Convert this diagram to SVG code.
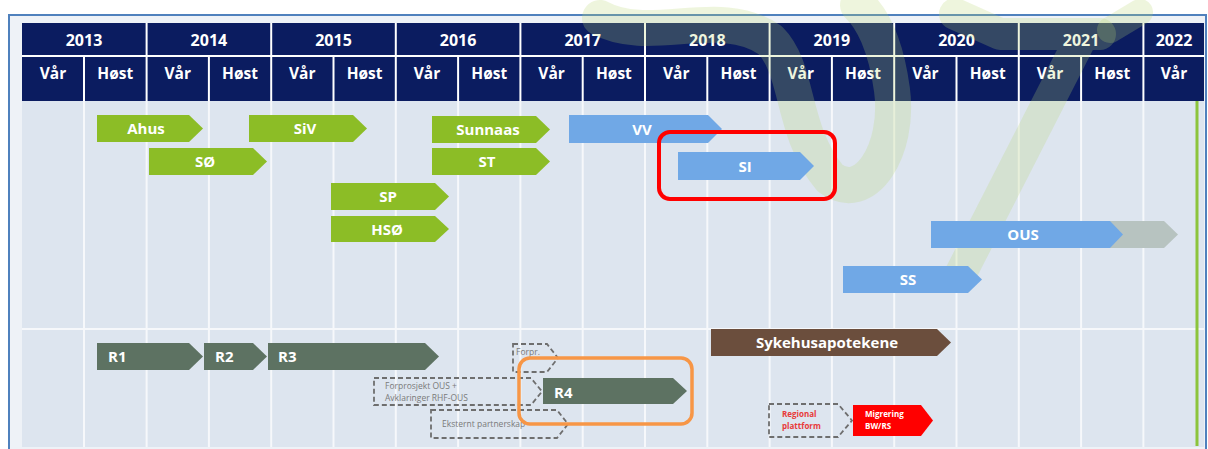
<svg xmlns="http://www.w3.org/2000/svg" width="1208" height="449" viewBox="0 0 1208 449">
<style>
.hd{fill:#0b1c60}
.hl{stroke:#ffffff;stroke-width:2}
.ht{font-family:"Open Sans","Liberation Sans",sans-serif;font-weight:bold;fill:#ffffff;text-anchor:middle}
.yr{font-size:16px}
.ss{font-size:15.5px}
.g{fill:#8cbd26}
.b{fill:#70a8e6}
.r{fill:#5d7262}
.br{fill:#6b4e3d}
.lbl{font-family:"Open Sans","Liberation Sans",sans-serif;font-weight:bold;font-size:15px;fill:#ffffff;text-anchor:middle}
.lbll{font-family:"Open Sans","Liberation Sans",sans-serif;font-weight:bold;font-size:15px;fill:#ffffff}
.dash{fill:none;stroke:#6e6e6e;stroke-width:1.8;stroke-dasharray:5 3}
.sm{font-family:"Open Sans","Liberation Sans",sans-serif;font-size:8.5px;fill:#7a7a7a}
.smr{font-family:"Open Sans","Liberation Sans",sans-serif;font-size:8px;font-weight:bold;fill:#e83a3a}
.smw{font-family:"Open Sans","Liberation Sans",sans-serif;font-size:8px;font-weight:bold;fill:#ffffff}
.grid{stroke:#f6f8fb;stroke-width:2}
.wm{fill:none;stroke:#b8d770;stroke-opacity:0.24;stroke-linecap:round;stroke-linejoin:round}
</style>
<rect x="0" y="0" width="1208" height="449" fill="#ffffff"/>
<rect x="9" y="15" width="1197" height="440" fill="#eef2f7" stroke="#4f81bd" stroke-width="2"/>
<rect x="22" y="101" width="1182" height="346" fill="#dde5ef"/>
<g id="grid">
<line class="grid" x1="84" y1="101" x2="84" y2="447"/>
<line class="grid" x1="146.6" y1="101" x2="146.6" y2="447"/>
<line class="grid" x1="208.9" y1="101" x2="208.9" y2="447"/>
<line class="grid" x1="271.2" y1="101" x2="271.2" y2="447"/>
<line class="grid" x1="333.5" y1="101" x2="333.5" y2="447"/>
<line class="grid" x1="395.8" y1="101" x2="395.8" y2="447"/>
<line class="grid" x1="458.1" y1="101" x2="458.1" y2="447"/>
<line class="grid" x1="520.4" y1="101" x2="520.4" y2="447"/>
<line class="grid" x1="582.7" y1="101" x2="582.7" y2="447"/>
<line class="grid" x1="645" y1="101" x2="645" y2="447"/>
<line class="grid" x1="707.3" y1="101" x2="707.3" y2="447"/>
<line class="grid" x1="769.6" y1="101" x2="769.6" y2="447"/>
<line class="grid" x1="831.9" y1="101" x2="831.9" y2="447"/>
<line class="grid" x1="894.2" y1="101" x2="894.2" y2="447"/>
<line class="grid" x1="956.5" y1="101" x2="956.5" y2="447"/>
<line class="grid" x1="1018.8" y1="101" x2="1018.8" y2="447"/>
<line class="grid" x1="1081.1" y1="101" x2="1081.1" y2="447"/>
<line class="grid" x1="1143.4" y1="101" x2="1143.4" y2="447"/>
<line class="grid" x1="22" y1="329" x2="1204" y2="329"/>
</g>
<g id="header">
<rect class="hd" x="22" y="23" width="1182" height="78"/>
<line class="hl" x1="22" y1="56" x2="1204" y2="56"/>
<line class="hl" x1="146.6" y1="23" x2="146.6" y2="101"/>
<line class="hl" x1="271.2" y1="23" x2="271.2" y2="101"/>
<line class="hl" x1="395.8" y1="23" x2="395.8" y2="101"/>
<line class="hl" x1="520.4" y1="23" x2="520.4" y2="101"/>
<line class="hl" x1="645" y1="23" x2="645" y2="101"/>
<line class="hl" x1="769.6" y1="23" x2="769.6" y2="101"/>
<line class="hl" x1="894.2" y1="23" x2="894.2" y2="101"/>
<line class="hl" x1="1018.8" y1="23" x2="1018.8" y2="101"/>
<line class="hl" x1="1143.4" y1="23" x2="1143.4" y2="101"/>
<line class="hl" x1="84" y1="56" x2="84" y2="101"/>
<line class="hl" x1="208.9" y1="56" x2="208.9" y2="101"/>
<line class="hl" x1="333.5" y1="56" x2="333.5" y2="101"/>
<line class="hl" x1="458.1" y1="56" x2="458.1" y2="101"/>
<line class="hl" x1="582.7" y1="56" x2="582.7" y2="101"/>
<line class="hl" x1="707.3" y1="56" x2="707.3" y2="101"/>
<line class="hl" x1="831.9" y1="56" x2="831.9" y2="101"/>
<line class="hl" x1="956.5" y1="56" x2="956.5" y2="101"/>
<line class="hl" x1="1081.1" y1="56" x2="1081.1" y2="101"/>
<text class="ht yr" x="84" y="46">2013</text>
<text class="ht yr" x="208.9" y="46">2014</text>
<text class="ht yr" x="333.5" y="46">2015</text>
<text class="ht yr" x="458.1" y="46">2016</text>
<text class="ht yr" x="582.7" y="46">2017</text>
<text class="ht yr" x="707.3" y="46">2018</text>
<text class="ht yr" x="831.9" y="46">2019</text>
<text class="ht yr" x="956.5" y="46">2020</text>
<text class="ht yr" x="1081.1" y="46">2021</text>
<text class="ht yr" x="1174" y="46">2022</text>
<text class="ht ss" x="53" y="79">Vår</text>
<text class="ht ss" x="115.3" y="79">Høst</text>
<text class="ht ss" x="177.7" y="79">Vår</text>
<text class="ht ss" x="240" y="79">Høst</text>
<text class="ht ss" x="302.3" y="79">Vår</text>
<text class="ht ss" x="364.6" y="79">Høst</text>
<text class="ht ss" x="427" y="79">Vår</text>
<text class="ht ss" x="489.3" y="79">Høst</text>
<text class="ht ss" x="551.6" y="79">Vår</text>
<text class="ht ss" x="613.9" y="79">Høst</text>
<text class="ht ss" x="676.2" y="79">Vår</text>
<text class="ht ss" x="738.5" y="79">Høst</text>
<text class="ht ss" x="800.8" y="79">Vår</text>
<text class="ht ss" x="863" y="79">Høst</text>
<text class="ht ss" x="925.4" y="79">Vår</text>
<text class="ht ss" x="987.7" y="79">Høst</text>
<text class="ht ss" x="1050" y="79">Vår</text>
<text class="ht ss" x="1112.3" y="79">Høst</text>
<text class="ht ss" x="1174" y="79">Vår</text>
</g>
<g id="watermark">
<path class="wm" d="M 600 18 C 650 45 720 5 770 40 C 800 70 790 130 830 178 C 865 205 900 150 892 90 C 886 45 872 18 858 5" stroke-width="36"/>
<path class="wm" d="M 955 14 L 1000 34 L 1100 34 M 1080 40 L 960 275" stroke-width="32"/>
<path class="wm" d="M 1110 30 L 1140 12" stroke-width="26"/>
</g>
<line x1="1197" y1="101" x2="1197" y2="446" stroke="#8cc43c" stroke-width="3"/>
<g id="n-ahus"><polygon class="g" points="97,115 189,115 203,128.5 189,142 97,142"/><text class="lbl" x="146" y="134">Ahus</text></g>
<g id="n-so"><polygon class="g" points="149,148 253,148 267,161.5 253,175 149,175"/><text class="lbl" x="205" y="167">SØ</text></g>
<g id="n-siv"><polygon class="g" points="249,115 353,115 367,128.5 353,142 249,142"/><text class="lbl" x="305" y="134">SiV</text></g>
<g id="n-sp"><polygon class="g" points="331,183 435,183 449,196.5 435,210 331,210"/><text class="lbl" x="388" y="202">SP</text></g>
<g id="n-hso"><polygon class="g" points="331,216 435,216 449,229 435,242 331,242"/><text class="lbl" x="387" y="235">HSØ</text></g>
<g id="n-sunnaas"><polygon class="g" points="432,116 536,116 550,129.5 536,143 432,143"/><text class="lbl" x="488" y="135">Sunnaas</text></g>
<g id="n-st"><polygon class="g" points="432,148 536,148 550,161.5 536,175 432,175"/><text class="lbl" x="487" y="167">ST</text></g>
<g id="n-vv"><polygon class="b" points="569,115 708,115 722,129 708,143 569,143"/><text class="lbl" x="642" y="135">VV</text></g>
<g id="n-si"><polygon class="b" points="678,152 800,152 814,166 800,180 678,180"/><text class="lbl" x="745" y="172">SI</text></g>
<g id="n-ous"><polygon fill="#b7c3c0" points="931,221 1164,221 1178,234.5 1164,248 931,248"/><polygon class="b" points="931,221 1110,221 1123,234.5 1110,248 931,248"/><text class="lbl" x="1023" y="240">OUS</text></g>
<g id="n-ss"><polygon class="b" points="843,266 968,266 982,279.5 968,293 843,293"/><text class="lbl" x="908" y="285">SS</text></g>
<g id="n-r1"><polygon class="r" points="97,343 189,343 203,356.5 189,370 97,370"/><text class="lbll" x="108" y="362">R1</text></g>
<g id="n-r2"><polygon class="r" points="204,343 253,343 267,356.5 253,370 204,370"/><text class="lbll" x="215" y="362">R2</text></g>
<g id="n-r3"><polygon class="r" points="268,343 425,343 439,356.5 425,370 268,370"/><text class="lbll" x="278" y="362">R3</text></g>
<g id="n-syk"><polygon class="br" points="711,329 937,329 951,342.5 937,356 711,356"/><text class="lbl" x="827" y="348">Sykehusapotekene</text></g>
<g id="n-forpr"><polygon class="dash" points="513,344 547,344 558,358 547,372 513,372"/><text class="sm" x="516" y="355">Forpr.</text></g>
<g id="n-forprosjekt"><polygon class="dash" points="374,378 531,378 542,391.5 531,405 374,405"/><text class="sm" x="385" y="389">Forprosjekt OUS +</text><text class="sm" x="385" y="401">Avklaringer RHF-OUS</text></g>
<g id="n-ekst"><polygon class="dash" points="431,410 557,410 568,424 557,438 431,438"/><text class="sm" x="442" y="427">Eksternt partnerskap</text></g>
<g id="n-r4"><polygon class="r" points="543,378 673,378 687,391 673,404 543,404"/><text class="lbll" x="554" y="398">R4</text></g>
<g id="n-regional"><polygon class="dash" points="769,404 838,404 852,420.5 838,437 769,437"/><text class="smr" x="782" y="417">Regional</text><text class="smr" x="782" y="429">plattform</text></g>
<g id="n-migr"><polygon fill="#ff0000" points="853,405 921,405 933,420.5 921,436 853,436"/><text class="smw" x="865" y="417">Migrering</text><text class="smw" x="865" y="429">BW/RS</text></g>
<g id="highlights" fill="none">
<rect x="659" y="132" width="176" height="67" rx="11" stroke="#ff0000" stroke-width="4"/>
<rect x="519" y="358" width="173" height="66" rx="11" stroke="#f79646" stroke-width="3.5"/>
</g>
<g id="connectors"></g>
</svg>
